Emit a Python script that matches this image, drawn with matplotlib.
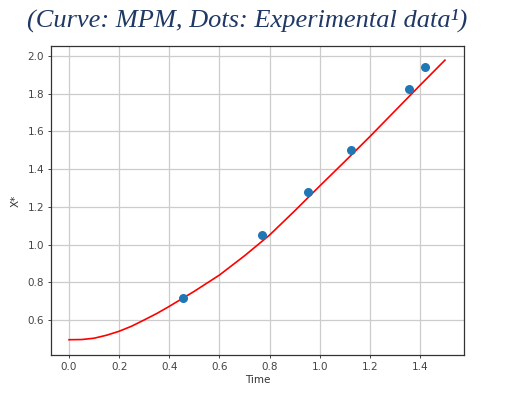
import matplotlib
matplotlib.use("Agg")
import matplotlib.pyplot as plt

# Curve (MPM)
curve_t = [0.0, 0.05, 0.1, 0.15, 0.2, 0.25, 0.3, 0.35, 0.4, 0.5, 0.6, 0.7, 0.8, 0.9, 1.0, 1.1, 1.2, 1.3, 1.4, 1.5]
curve_x = [0.495, 0.496, 0.503, 0.519, 0.540, 0.567, 0.600, 0.634, 0.672, 0.752, 0.838, 0.940, 1.050, 1.178, 1.310, 1.440, 1.572, 1.708, 1.844, 1.978]

# Experimental dots
exp_t = [0.455, 0.769, 0.953, 1.124, 1.356, 1.42]
exp_x = [0.714, 1.048, 1.28, 1.50, 1.823, 1.94]

xticks = [0.0, 0.2, 0.4, 0.6, 0.8, 1.0, 1.2, 1.4]
yticks = [0.6, 0.8, 1.0, 1.2, 1.4, 1.6, 1.8, 2.0]

fig = plt.figure(figsize=(5.12, 3.97), dpi=100)
ax = fig.add_axes([51/512, 1 - 355/397, (464-51)/512, (355-46)/397])

ax.plot(curve_t, curve_x, color="red", lw=1.2, zorder=2)
ax.scatter(exp_t, exp_x, s=30, color="#1f77b4", zorder=3)

ax.set_xlim(-0.072, 1.576)
ax.set_ylim(0.414, 2.053)
ax.set_xticks(xticks)
ax.set_yticks(yticks)
ax.set_xticklabels([f"{v:.1f}" for v in xticks])
ax.set_yticklabels([f"{v:.1f}" for v in yticks])
ax.tick_params(labelsize=7.5, length=2.5, width=0.7, colors="#444444", pad=2.5)
ax.grid(True, color="#cccccc", lw=0.9)
ax.set_axisbelow(True)
for s in ax.spines.values():
    s.set_color("#333333")
    s.set_linewidth(0.9)
ax.set_xlabel("Time", fontsize=7.5, color="#333333", labelpad=2)
ax.set_ylabel("X*", fontsize=7.5, color="#333333", labelpad=5)

fig.text(0.483, 1 - 20/397, "(Curve: MPM, Dots: Experimental data¹)",
         family="Liberation Serif", style="italic", fontsize=19,
         color="#1f3864", ha="center", va="center")

fig.savefig("out.png", dpi=100)
